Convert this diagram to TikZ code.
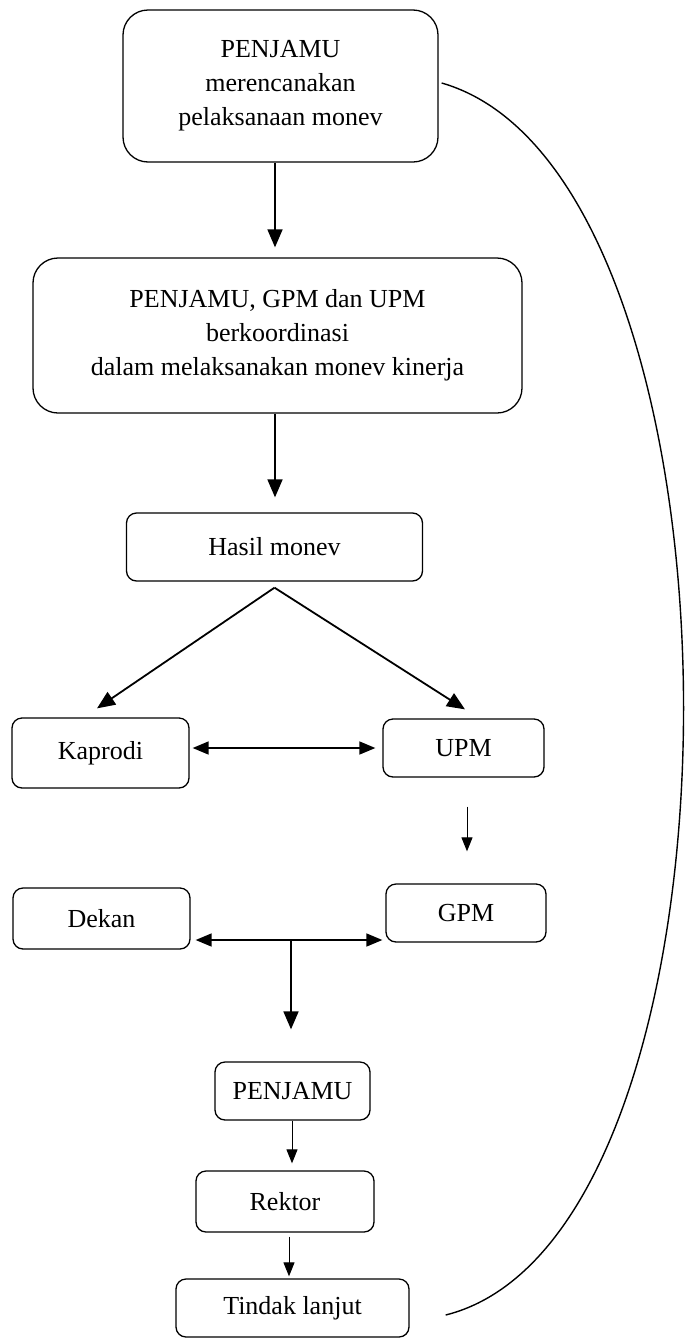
\documentclass[tikz,border=0pt]{standalone}
\usepackage{fontspec}
\setmainfont{Liberation Serif}
\usetikzlibrary{arrows.meta}
\begin{document}
\begin{tikzpicture}[x=1pt,y=-1pt,
  box/.style={draw, line width=1.3pt, rounded corners=10pt, inner sep=0pt, align=center,
    font=\fontsize{26}{34}\selectfont},
  bigbox/.style={box, rounded corners=25pt},
  arr/.style={-{Triangle[length=18pt,width=15pt]}, line width=1.8pt},
  dbl/.style={{Triangle[length=16pt,width=13pt]}-{Triangle[length=16pt,width=13pt]}, line width=1.6pt},
  thin/.style={-{Triangle[length=14pt,width=11pt]}, line width=1pt},
  loop/.style={line width=1.4pt}]
\useasboundingbox (0,0) rectangle (687,1339);
\fill[white] (0,0) rectangle (687,1339);

\node[bigbox, minimum width=315pt, minimum height=152pt] (b1) at (280.5,86)
  {PENJAMU\\merencanakan\\pelaksanaan monev};
\node[bigbox, minimum width=489pt, minimum height=155pt] (b2) at (277.5,335.5)
  {PENJAMU, GPM dan UPM\\berkoordinasi\\dalam melaksanakan monev kinerja};
\node[box, minimum width=296pt, minimum height=68pt] (b3) at (274.5,547) {Hasil monev};
\node[box, minimum width=177pt, minimum height=70pt] (kap) at (100.5,753) {Kaprodi};
\node[box, minimum width=161pt, minimum height=58pt] (upm) at (463.5,748) {UPM};
\node[box, minimum width=160pt, minimum height=58pt] (gpm) at (466,913) {GPM};
\node[box, minimum width=177pt, minimum height=61pt] (dek) at (101.5,918.5) {Dekan};
\node[box, minimum width=155pt, minimum height=58pt] (p2) at (292.5,1091) {PENJAMU};
\node[box, minimum width=178pt, minimum height=61pt] (rek) at (285,1201.5) {Rektor};
\node[box, minimum width=233pt, minimum height=58pt] (tin) at (292.5,1308) {Tindak lanjut};

% vertical arrows
\draw[arr] ([xshift=-5.5pt]b1.south) -- ([xshift=-2.5pt,yshift=10pt]b2.north);
\draw[arr] ([xshift=-2.5pt]b2.south) -- ([xshift=0.5pt,yshift=15pt]b3.north);

% split from Hasil monev
\coordinate (apex) at ([yshift=-6pt]b3.south);
\draw[arr] (apex) -- ([xshift=-3.5pt,yshift=9pt]kap.north);
\draw[arr] (apex) -- ([xshift=1.5pt,yshift=9pt]upm.north);

% Kaprodi <-> UPM
\draw[dbl] ([xshift=3pt,yshift=5pt]kap.east) -- ([xshift=-7pt]upm.west);

% UPM -> GPM
\draw[thin] ([xshift=3.5pt,yshift=-29pt]upm.south) -- ([xshift=1pt,yshift=32pt]gpm.north);

% Dekan <-> GPM
\draw[dbl] ([xshift=5pt,yshift=-21.5pt]dek.east) -- ([xshift=-3pt,yshift=-27pt]gpm.west);
\coordinate (mid) at (291,940);
\draw[arr] (mid) -- ([xshift=-1.5pt,yshift=32pt]p2.north);

% lower chain
\draw[thin] ([xshift=-0.5pt]p2.south) -- ([xshift=7pt,yshift=7pt]rek.north);
\draw[thin] ([xshift=4pt,yshift=-4pt]rek.south) -- ([xshift=-3.5pt,yshift=2pt]tin.north);

% feedback curve
\coordinate (cs) at ([xshift=3pt,yshift=3pt]b1.east);
\coordinate (ce) at ([xshift=36pt,yshift=-7pt]tin.east);
\draw[loop] (cs) .. controls (762,175) and (765,1235) .. (ce);
\end{tikzpicture}
\end{document}
